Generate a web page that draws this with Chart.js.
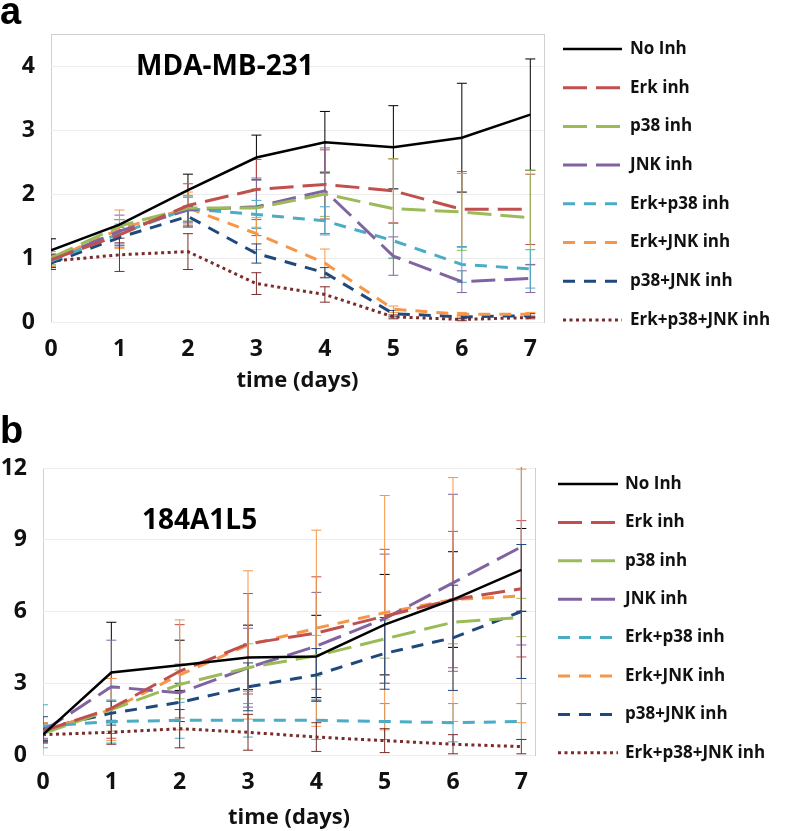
<!DOCTYPE html>
<html>
<head>
<meta charset="utf-8">
<script src="https://cdn.jsdelivr.net/npm/chart.js@4.4.0/dist/chart.umd.min.js"></script>
<style>
  body { margin: 0; background: #fff; width: 789px; height: 831px; overflow: hidden; position: relative; }
  canvas { position: absolute; left: 0; }
  #chartA { top: 0; }
  #chartB { top: 410px; }
</style>
</head>
<body>
<canvas id="chartA" width="789" height="410"></canvas>
<canvas id="chartB" width="789" height="421"></canvas>
<script>
const days = [0, 1, 2, 3, 4, 5, 6, 7];
const seriesNames = ["No Inh", "Erk inh", "p38 inh", "JNK inh", "Erk+p38 inh", "Erk+JNK inh", "p38+JNK inh", "Erk+p38+JNK inh"];

// panel a - MDA-MB-231 (mean, error)
const mdaNoInh = [1.12, 1.52, 2.06, 2.57, 2.81, 2.73, 2.88, 3.24];
const mdaNoInhErr = [0.18, 0.08, 0.25, 0.35, 0.48, 0.65, 0.85, 0.87];
const mdaErk = [0.97, 1.36, 1.82, 2.07, 2.15, 2.05, 1.76, 1.76];
const mdaErkErr = [0.1, 0.12, 0.34, 0.47, 0.54, 0.5, 0.59, 0.55];
const mdaP38 = [1.0, 1.5, 1.78, 1.78, 2.0, 1.77, 1.72, 1.63];
const mdaP38Err = [0.1, 0.1, 0.2, 0.3, 0.35, 0.78, 0.6, 0.74];
const mdaJnk = [0.97, 1.42, 1.75, 1.8, 2.05, 1.03, 0.63, 0.68];
const mdaJnkErr = [0.1, 0.25, 0.2, 0.45, 0.67, 0.3, 0.17, 0.22];
const mdaErkP38 = [0.95, 1.38, 1.77, 1.68, 1.58, 1.27, 0.9, 0.83];
const mdaErkP38Err = [0.1, 0.15, 0.2, 0.22, 0.22, 0.27, 0.28, 0.3];
const mdaErkJnk = [0.97, 1.45, 1.78, 1.38, 0.92, 0.2, 0.12, 0.12];
const mdaErkJnkErr = [0.1, 0.3, 0.25, 0.25, 0.22, 0.05, 0.03, 0.03];
const mdaP38Jnk = [0.92, 1.32, 1.65, 1.07, 0.77, 0.13, 0.08, 0.1];
const mdaP38JnkErr = [0.1, 0.12, 0.15, 0.15, 0.08, 0.05, 0.03, 0.03];
const mdaAll = [0.95, 1.05, 1.1, 0.6, 0.43, 0.08, 0.04, 0.07];
const mdaAllErr = [0.1, 0.26, 0.28, 0.17, 0.12, 0.03, 0.02, 0.02];

// panel b - 184A1L5
const hmecNoInh = [0.85, 3.45, 3.75, 4.08, 4.12, 5.45, 6.5, 7.74];
const hmecNoInhErr = [0.3, 2.1, 1.05, 1.35, 1.72, 2.1, 2.0, 1.73];
const hmecErk = [1.0, 1.95, 3.5, 4.65, 5.1, 5.8, 6.5, 6.95];
const hmecErkErr = [0.35, 1.25, 1.95, 2.1, 2.35, 2.8, 2.85, 2.85];
const hmecP38 = [0.9, 1.9, 2.95, 3.65, 4.15, 4.85, 5.55, 5.75];
const hmecP38Err = [0.3, 0.9, 0.6, 1.0, 0.85, 0.8, 0.9, 0.8];
const hmecJnk = [1.0, 2.85, 2.6, 3.65, 4.55, 5.7, 7.2, 8.7];
const hmecJnkErr = [0.3, 1.95, 1.2, 1.65, 2.25, 2.7, 3.7, 4.1];
const hmecErkP38 = [1.2, 1.4, 1.45, 1.45, 1.45, 1.4, 1.35, 1.4];
const hmecErkP38Err = [0.9, 0.9, 0.75, 0.7, 0.8, 0.75, 0.8, 0.75];
const hmecErkJnk = [1.0, 1.9, 3.35, 4.6, 5.3, 5.95, 6.5, 6.65];
const hmecErkJnkErr = [0.35, 1.3, 2.3, 3.1, 4.1, 4.9, 5.1, 5.3];
const hmecP38Jnk = [1.1, 1.75, 2.2, 2.85, 3.35, 4.25, 4.9, 6.0];
const hmecP38JnkErr = [0.5, 0.5, 0.8, 1.0, 1.1, 1.5, 2.2, 2.8];
const hmecAll = [0.85, 0.95, 1.1, 0.95, 0.75, 0.6, 0.45, 0.35];
const hmecAllErr = [0.35, 0.5, 0.8, 0.75, 0.6, 0.5, 0.4, 0.3];

const colors = ["#000000", "#c0504d", "#9bbb59", "#8064a2", "#4bacc6", "#f79646", "#1f497d", "#7b2c2a"];
const dashes = [[], [24, 9], [24, 9], [24, 9], [12, 9], [12, 9], [12, 9], [3, 3.5]];
const FONT = "'Open Sans', sans-serif";

// vertical error bars, drawn under the lines
const errorBars = {
  id: "errorBars",
  beforeDatasetsDraw(chart) {
    const { ctx, chartArea, scales: { x, y } } = chart;
    ctx.save();
    ctx.beginPath();
    ctx.rect(chartArea.left, chartArea.top - 1, chartArea.right - chartArea.left, chartArea.bottom - chartArea.top + 2);
    ctx.clip();
    ctx.lineWidth = 1;
    chart.data.datasets.forEach((ds) => {
      ctx.strokeStyle = ds.borderColor;
      ds.data.forEach((p, i) => {
        const e = ds.errors[i];
        const px = x.getPixelForValue(p.x);
        const top = y.getPixelForValue(p.y + e);
        const bot = y.getPixelForValue(Math.max(p.y - e, 0));
        ctx.beginPath();
        ctx.moveTo(px, top); ctx.lineTo(px, bot);
        ctx.moveTo(px - 5, top); ctx.lineTo(px + 5, top);
        ctx.moveTo(px - 5, bot); ctx.lineTo(px + 5, bot);
        ctx.stroke();
      });
    });
    ctx.restore();
  }
};

// plot border, panel letter, cell line label and the legend
const decor = {
  id: "decor",
  beforeDraw(chart, args, o) {
    const { ctx, chartArea: a } = chart;
    ctx.save();
    ctx.strokeStyle = "#d0d0d0";
    ctx.lineWidth = 1;
    ctx.strokeRect(a.left + 0.5, a.top + 0.5, a.right - a.left, a.bottom - a.top);
    ctx.restore();
  },
  afterDraw(chart, args, o) {
    const { ctx } = chart;
    ctx.save();
    ctx.fillStyle = "#000";
    ctx.textBaseline = "alphabetic";
    ctx.font = "bold 38px 'Liberation Sans', Arial, sans-serif";
    ctx.fillText(o.letter, 0, o.letterY);
    ctx.font = "bold 28px " + FONT;
    ctx.textBaseline = "middle";
    ctx.fillText(o.title, o.titleX, o.titleY);
    ctx.font = "bold 17px " + FONT;
    chart.data.datasets.forEach((ds, i) => {
      const ry = o.legendY + i * o.rowStep;
      ctx.strokeStyle = ds.borderColor;
      ctx.lineWidth = ds.borderWidth;
      ctx.setLineDash(ds.borderDash);
      ctx.beginPath();
      ctx.moveTo(o.lineX0, ry);
      ctx.lineTo(o.lineX1, ry);
      ctx.stroke();
      ctx.setLineDash([]);
      ctx.fillStyle = "#111";
      ctx.fillText(ds.label, o.textX, ry);
    });
    ctx.restore();
  }
};

function buildPanel(canvasId, means, errs, yMax, yStep, geo) {
  const datasets = means.map((vals, i) => ({
    label: seriesNames[i],
    data: days.map((d, k) => ({ x: d, y: vals[k] })),
    errors: errs[i],
    borderColor: colors[i],
    borderWidth: i === 0 ? 2.5 : 3,
    borderDash: dashes[i],
    pointRadius: 0,
    tension: 0,
    fill: false
  }));
  return new Chart(document.getElementById(canvasId), {
    type: "line",
    data: { datasets },
    plugins: [errorBars, decor],
    options: {
      responsive: false,
      animation: false,
      layout: { padding: { top: geo.top, right: geo.right, left: 0, bottom: 0 } },
      plugins: {
        legend: { display: false },
        tooltip: { enabled: false },
        decor: geo.decor
      },
      scales: {
        x: {
          type: "linear",
          min: 0,
          max: 7.2,
          afterFit: (s) => { s.height = geo.xHeight; },
          grid: { display: false },
          border: { display: false },
          ticks: { stepSize: 1, includeBounds: false, padding: 6, color: "#111", font: { family: FONT, size: 23, weight: "bold" } },
          title: { display: true, text: "time (days)", color: "#111", padding: { top: 0, bottom: geo.titlePad }, font: { family: FONT, size: 22, weight: "bold" } }
        },
        y: {
          min: 0,
          max: yMax,
          afterFit: (s) => { s.width = geo.yWidth; },
          grid: { color: "#ececec", drawTicks: false },
          border: { display: false },
          ticks: { stepSize: yStep, includeBounds: false, padding: 16, color: "#111", font: { family: FONT, size: 23, weight: "bold" } }
        }
      }
    }
  });
}

buildPanel("chartA",
  [mdaNoInh, mdaErk, mdaP38, mdaJnk, mdaErkP38, mdaErkJnk, mdaP38Jnk, mdaAll],
  [mdaNoInhErr, mdaErkErr, mdaP38Err, mdaJnkErr, mdaErkP38Err, mdaErkJnkErr, mdaP38JnkErr, mdaAllErr],
  4.5, 1,
  {
    top: 34, right: 245, yWidth: 51, xHeight: 88, titlePad: 16,
    decor: { letter: "a", letterY: 24, title: "MDA-MB-231", titleX: 136, titleY: 67,
             legendY: 49, rowStep: 38.7, lineX0: 563, lineX1: 622, textX: 630 }
  });

buildPanel("chartB",
  [hmecNoInh, hmecErk, hmecP38, hmecJnk, hmecErkP38, hmecErkJnk, hmecP38Jnk, hmecAll],
  [hmecNoInhErr, hmecErkErr, hmecP38Err, hmecJnkErr, hmecErkP38Err, hmecErkJnkErr, hmecP38JnkErr, hmecAllErr],
  12, 3,
  {
    top: 58, right: 254, yWidth: 43, xHeight: 76, titlePad: 0,
    decor: { letter: "b", letterY: 33, title: "184A1L5", titleX: 142, titleY: 111,
             legendY: 74, rowStep: 38.4, lineX0: 558, lineX1: 618, textX: 625 }
  });
</script>
</body>
</html>
